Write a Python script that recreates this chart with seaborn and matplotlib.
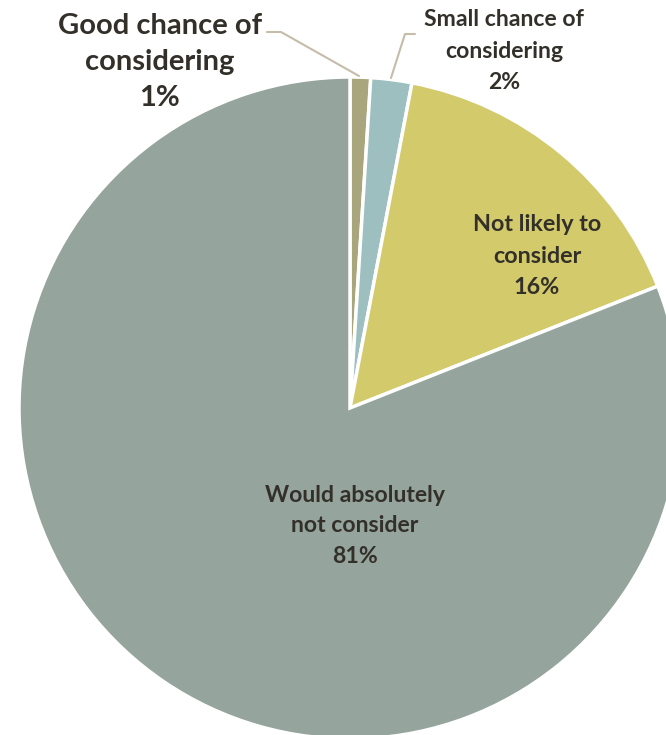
import matplotlib
matplotlib.use("Agg")
import matplotlib.pyplot as plt
import seaborn as sns

sns.set_theme(style="white")
plt.rcParams["font.family"] = ["Lato", "DejaVu Sans"]

categories = ["Good chance of\nconsidering", "Small chance of\nconsidering",
              "Not likely to\nconsider", "Would absolutely\nnot consider"]
shares = [1, 2, 16, 81]
colors = ["#a9a67d", "#9dbfbf", "#d3ca6c", "#95a49c"]

text_color = "#33302a"
line_color = "#c5bcaa"

fig = plt.figure(figsize=(6.66, 7.35), dpi=100)
ax = fig.add_axes([0, 0, 1, 1])

wedges, _ = ax.pie(shares, colors=colors, startangle=90, counterclock=False,
                   radius=1.0, center=(0, 0),
                   wedgeprops=dict(edgecolor="white", linewidth=2.5))

# the pie runs off the right and bottom edges of the figure
ax.set_xlim(-350 / 331, 316 / 331)
ax.set_ylim(-327 / 331, 408 / 331)
ax.set_aspect("auto")
ax.axis("off")

labels = [f"{c}\n{v}%" for c, v in zip(categories, shares)]

def px(x, y):
    return ((x - 350) / 331, (408 - y) / 331)

kw = dict(ha="center", va="center", color=text_color, fontweight="bold")

ax.text(*px(160, 62), labels[0], fontsize=21, linespacing=1.47, **kw)
ax.text(*px(504, 51), labels[1], fontsize=16.6, linespacing=1.6, **kw)
ax.text(*px(537, 256), labels[2], fontsize=16.8, linespacing=1.6, **kw)
ax.text(*px(355, 526), labels[3], fontsize=16.6, linespacing=1.57, **kw)

# leader lines for the two thin slices
l1 = [px(267, 32), px(281, 32), px(359, 76)]
ax.plot([p[0] for p in l1], [p[1] for p in l1], color=line_color, lw=1.5)
l2 = [px(415, 34), px(405, 34), px(391, 78)]
ax.plot([p[0] for p in l2], [p[1] for p in l2], color=line_color, lw=1.5)

fig.savefig("out.png", dpi=100, facecolor="white")
